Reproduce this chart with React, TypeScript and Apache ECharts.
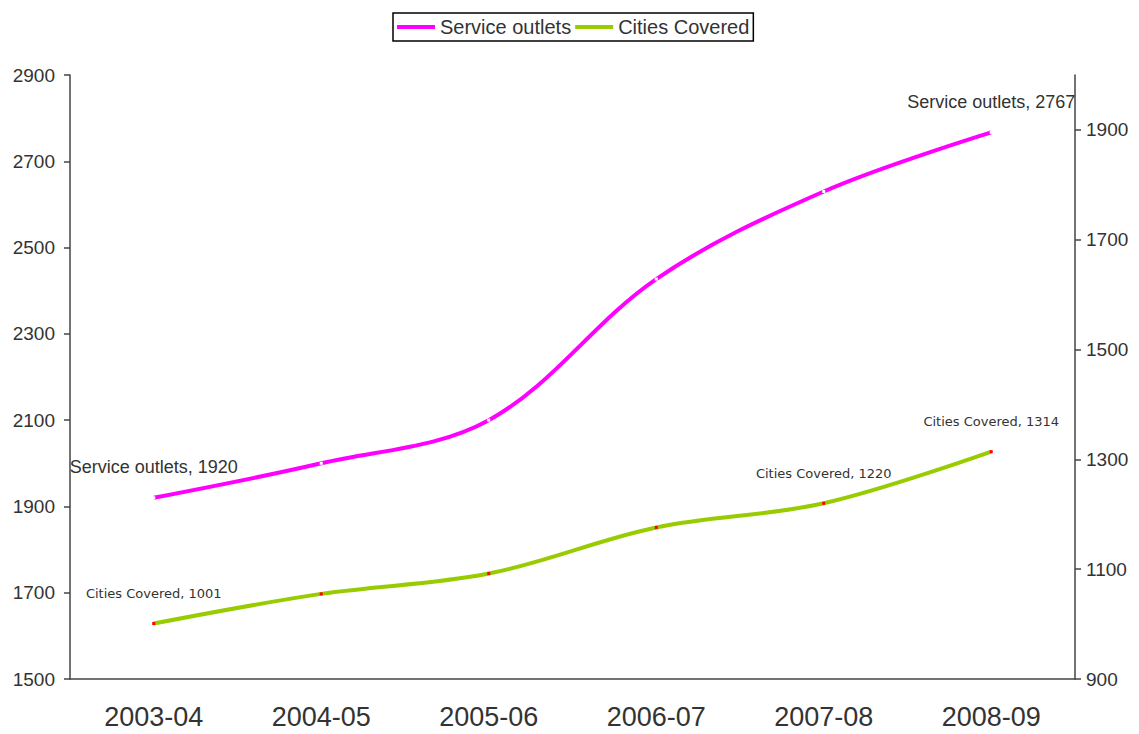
import React, { useEffect, useRef } from "react";
import * as echarts from "echarts";

const categories = ["2003-04", "2004-05", "2005-06", "2006-07", "2007-08", "2008-09"];
const serviceOutlets = [1920, 2000, 2100, 2427, 2630, 2767];
const citiesCovered = [1001, 1055, 1092, 1176, 1220, 1314];
const serviceLabelShown = [true, false, false, false, false, true];
const citiesLabelShown = [true, false, false, false, true, true];
const rightTicks = [900, 1100, 1300, 1500, 1700, 1900];

export default function App() {
  const ref = useRef<HTMLDivElement>(null);
  useEffect(() => {
    if (!ref.current) return;
    const chart = echarts.init(ref.current, undefined, { renderer: "svg" });
    const axisColor = "#444";
    const font = "Liberation Sans, Arial, sans-serif";
    const plain = (v: number) => String(v);
    chart.setOption({
      animation: false,
      backgroundColor: "#fff",
      legend: {
        top: 13,
        left: 393,
        itemWidth: 38,
        itemHeight: 4,
        itemGap: 4,
        borderColor: "#000",
        borderWidth: 1.5,
        borderRadius: 0,
        padding: [4, 4],
        textStyle: { fontSize: 20, color: "#333", fontFamily: font },
        data: [
          { name: "Service outlets", icon: "rect", itemStyle: { color: "#ff00ff" } },
          { name: "Cities Covered", icon: "rect", itemStyle: { color: "#99cc00" } },
        ],
      },
      grid: { left: 70, right: 64, top: 75, bottom: 55 },
      xAxis: {
        type: "category",
        data: categories,
        boundaryGap: true,
        axisLine: { lineStyle: { color: axisColor, width: 1.5 } },
        axisTick: { length: 9, lineStyle: { color: axisColor, width: 1.5 } },
        axisLabel: { fontSize: 27, color: "#333", margin: 24, fontFamily: font },
      },
      yAxis: [
        {
          type: "value",
          min: 1500,
          max: 2900,
          interval: 200,
          splitLine: { show: false },
          axisLine: { show: true, lineStyle: { color: axisColor, width: 1.5 } },
          axisTick: { show: true, length: 6, lineStyle: { color: axisColor, width: 1.5 } },
          axisLabel: { fontSize: 19, color: "#333", margin: 15, fontFamily: font, formatter: plain },
        },
        {
          type: "value",
          min: 900,
          max: 2000,
          interval: 200,
          position: "right",
          splitLine: { show: false },
          axisLine: { show: true, lineStyle: { color: axisColor, width: 1.5 } },
          axisTick: {
            show: true,
            length: 6,
            customValues: rightTicks,
            lineStyle: { color: axisColor, width: 1.5 },
          },
          axisLabel: {
            fontSize: 19,
            color: "#333",
            margin: 11,
            customValues: rightTicks,
            fontFamily: font,
            formatter: plain,
          },
        },
      ],
      series: [
        {
          name: "Service outlets",
          type: "line",
          yAxisIndex: 0,
          smooth: 0.35,
          data: serviceOutlets.map((v, i) => ({
            value: v,
            label: { show: serviceLabelShown[i] },
          })),
          lineStyle: { color: "#ff00ff", width: 4 },
          itemStyle: { color: "#ffffff", borderWidth: 0 },
          symbol: "rect",
          symbolSize: 3,
          label: {
            show: false,
            position: "top",
            distance: 20,
            fontSize: 18,
            color: "#333",
            fontFamily: font,
            formatter: (p: any) => `${p.seriesName}, ${p.value}`,
          },
        },
        {
          name: "Cities Covered",
          type: "line",
          yAxisIndex: 1,
          smooth: 0.35,
          data: citiesCovered.map((v, i) => ({
            value: v,
            label: { show: citiesLabelShown[i] },
          })),
          lineStyle: { color: "#99cc00", width: 4 },
          itemStyle: { color: "#ff0000", borderWidth: 0 },
          symbol: "rect",
          symbolSize: 3,
          label: {
            show: false,
            position: "top",
            distance: 22,
            fontSize: 13,
            color: "#333",
            fontFamily: "DejaVu Sans, sans-serif",
            formatter: (p: any) => `${p.seriesName}, ${p.value}`,
          },
        },
      ],
    });
    return () => chart.dispose();
  }, []);
  return <div ref={ref} style={{ width: 1139, height: 734, position: "absolute", left: 0, top: 0 }} />;
}
